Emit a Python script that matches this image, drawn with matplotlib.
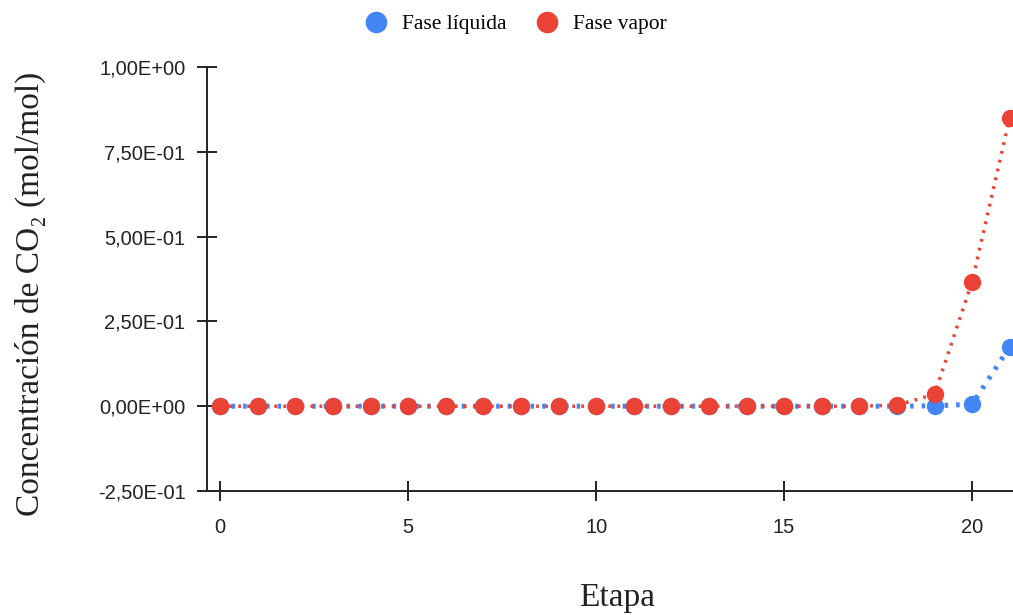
import matplotlib.pyplot as plt
from matplotlib.ticker import FuncFormatter

# Stage number and CO2 concentration per phase
etapas = list(range(22))
fase_liquida = [0.0] * 19 + [0.001, 0.006, 0.175]
fase_vapor = [0.0] * 18 + [0.003, 0.035, 0.367, 0.85]

azul = '#4285F4'
rojo = '#EA4335'


def sci_coma(v, pos):
    # Google-style label: 2,50E-01
    s = f"{v:.2E}"
    return s.replace('.', ',')


fig = plt.figure(figsize=(10.13, 6.15), dpi=100)
ax = fig.add_axes([207 / 1013, 1 - 491 / 615, (1027 - 207) / 1013, (491 - 67) / 615])

ax.plot(etapas, fase_liquida, color=azul, linestyle=(0, (0.7, 1.6)), linewidth=3.6,
        marker='o', markersize=11.5, label='Fase líquida', zorder=3)
ax.plot(etapas, fase_vapor, color=rojo, linestyle=(0, (0.8, 1.8)), linewidth=2.5,
        marker='o', markersize=11.5, label='Fase vapor', zorder=4)

ax.set_xlim(-0.35, 21.46)
ax.set_ylim(-0.25, 1.0)
ax.set_xticks([0, 5, 10, 15, 20])
ax.set_yticks([-0.25, 0, 0.25, 0.5, 0.75, 1.0])
ax.yaxis.set_major_formatter(FuncFormatter(sci_coma))

for s in ['top', 'right']:
    ax.spines[s].set_visible(False)
for s in ['left', 'bottom']:
    ax.spines[s].set_linewidth(1.4)
    ax.spines[s].set_color('#222222')

ax.tick_params(direction='inout', length=15, width=1.4, color='#222222',
               labelsize=14.5, labelcolor='#222222', pad=8)
ax.tick_params(axis='x', pad=12)
for lbl in ax.get_xticklabels() + ax.get_yticklabels():
    lbl.set_family('Liberation Sans')

fig.text(30 / 1013, 1 - 294 / 615, 'Concentración de CO₂ (mol/mol)', rotation=90,
         ha='center', va='center', fontsize=24, family='Liberation Serif', color='#222222')
fig.text(617 / 1013, 1 - 598 / 615, 'Etapa', ha='center', va='center',
         fontsize=24, family='Liberation Serif', color='#222222')

leg = fig.legend(loc='center', bbox_to_anchor=(517 / 1013, 1 - 24 / 615), ncol=2,
                 frameon=False, prop={'family': 'Liberation Serif', 'size': 15.5},
                 handlelength=0.8, handletextpad=0.8, columnspacing=1.5)
for h in leg.legend_handles:
    h.set_linestyle('none')
    h.set_markersize(14.5)

fig.savefig('out.png', dpi=100)
